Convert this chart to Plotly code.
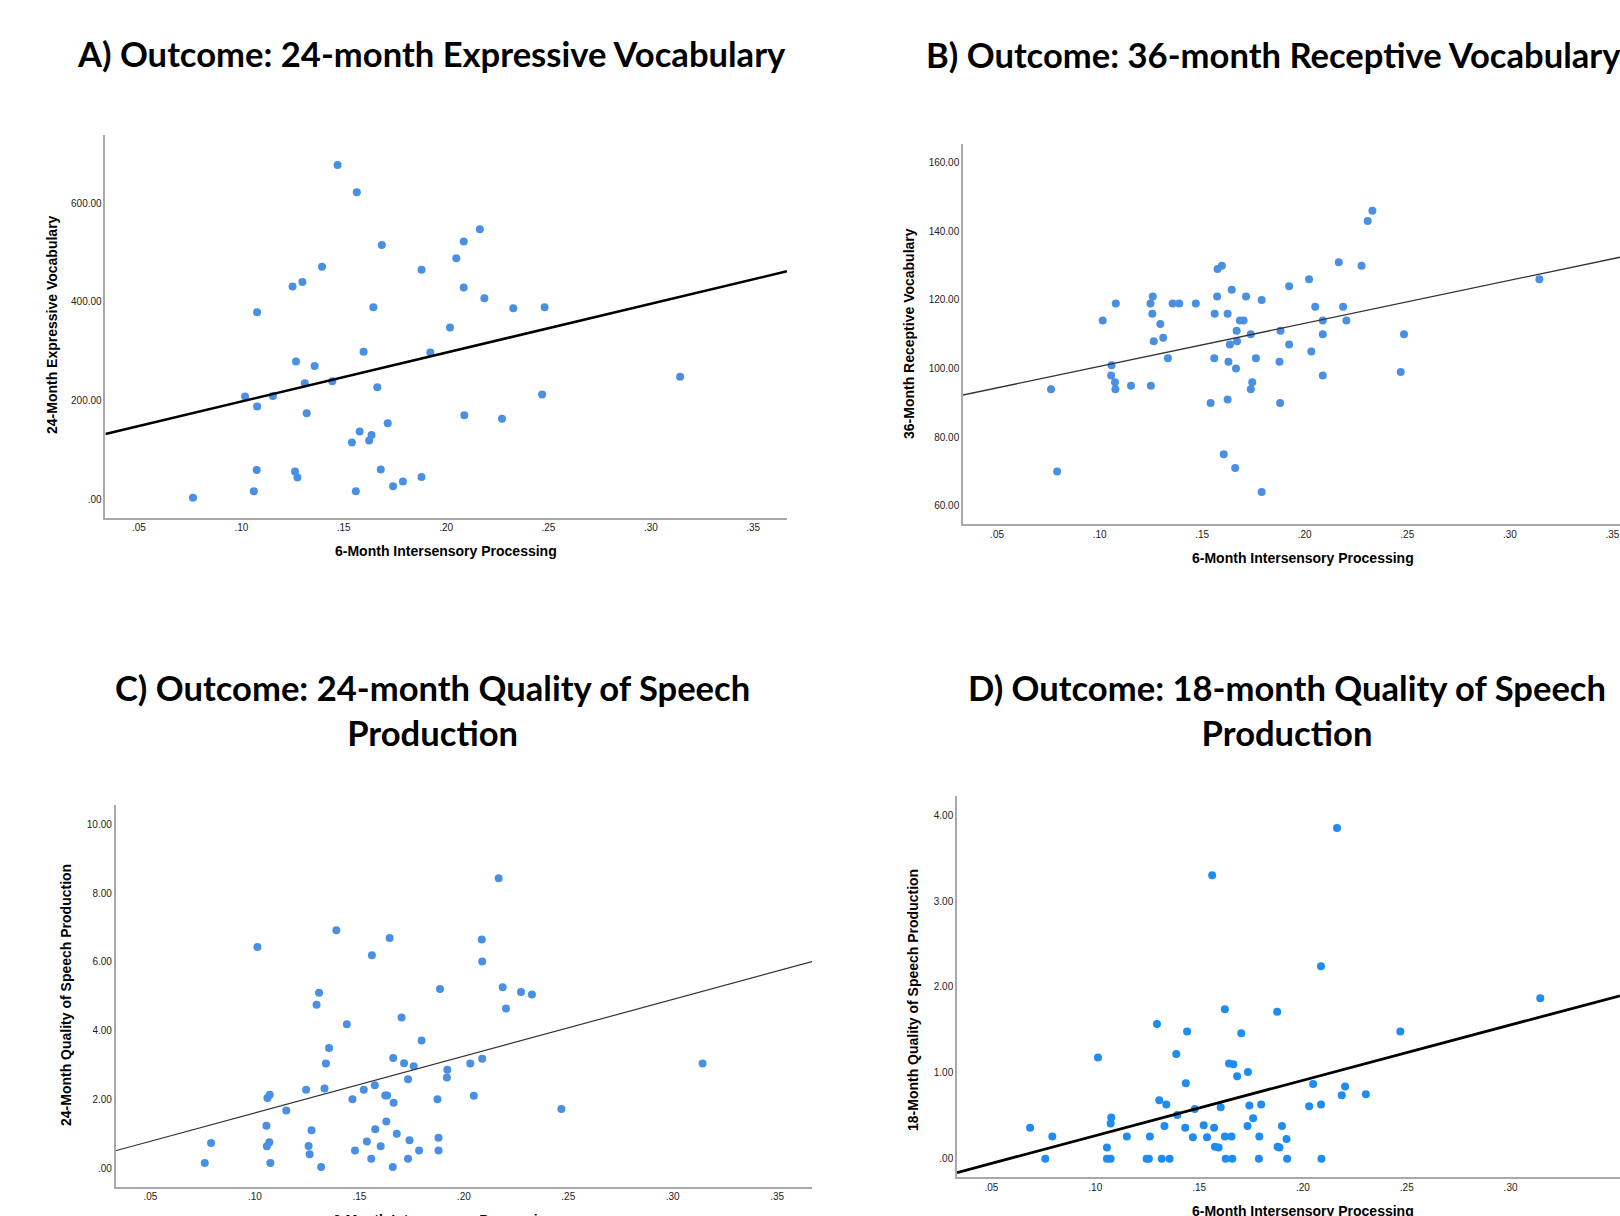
import plotly.graph_objects as go

W, H = 1620, 1216

# ---------------- DATA ----------------
x_tick_vals = [0.05, 0.10, 0.15, 0.20, 0.25, 0.30, 0.35]
x_tick_text = [".05", ".10", ".15", ".20", ".25", ".30", ".35"]

# Panel A: 24-month expressive vocabulary
a_x = [0.147, 0.1564, 0.2165, 0.2086, 0.1686, 0.2050, 0.188, 0.1394, 0.1298, 0.125,
       0.2086, 0.2187, 0.1645, 0.2328, 0.2481, 0.1077, 0.2019, 0.1597, 0.1923, 0.1267,
       0.1358, 0.131, 0.1444, 0.1664, 0.3143, 0.1018, 0.1154, 0.1077, 0.2469, 0.1319,
       0.2089, 0.2273, 0.1715, 0.1578, 0.1636, 0.154, 0.1624, 0.1075, 0.1262, 0.1681,
       0.1274, 0.188, 0.1789, 0.1741, 0.1061, 0.1559, 0.0764]
a_y = [677, 622, 547, 522, 515, 488, 465, 471, 440, 431,
       429, 407, 389, 387, 389, 379, 348, 299, 297, 279,
       270, 235, 239, 227, 248, 208, 209, 188, 212, 174,
       170, 163, 154, 137, 130, 115, 119, 59, 56, 60,
       44, 45, 36, 26, 16, 16, 3]
a_ticks = [0, 200, 400, 600]
a_ticktext = [".00", "200.00", "400.00", "600.00"]
a_fit = (99.0, 990.0)  # intercept, slope

# Panel B: 36-month receptive vocabulary
b_x = [0.233, 0.2307, 0.2166, 0.2277, 0.1596, 0.1575, 0.2021, 0.3144, 0.1924, 0.1644,
       0.1259, 0.1573, 0.1714, 0.179, 0.1079, 0.1248, 0.1356, 0.1388, 0.1469, 0.2051,
       0.2187, 0.1257, 0.1561, 0.1624, 0.1296, 0.1015, 0.1684, 0.1702, 0.2088, 0.2203,
       0.1668, 0.1882, 0.1737, 0.2088, 0.2484, 0.131, 0.1264, 0.167, 0.1635, 0.1924,
       0.2032, 0.1333, 0.1559, 0.1762, 0.1058, 0.1628, 0.1877, 0.1665, 0.2468, 0.1056,
       0.2088, 0.1075, 0.1744, 0.0763, 0.1077, 0.1737, 0.1153, 0.125, 0.1541, 0.1624,
       0.188, 0.1605, 0.0793, 0.1661, 0.179]
b_y = [146, 143, 131, 130, 130, 129, 126, 126, 124, 123,
       121, 121, 121, 120, 119, 119, 119, 119, 119, 118,
       118, 116, 116, 116, 113, 114, 114, 114, 114, 114,
       111, 111, 110, 110, 110, 109, 108, 108, 107, 107,
       105, 103, 103, 103, 101, 102, 102, 100, 99, 98,
       98, 96, 96, 94, 94, 94, 95, 95, 90, 91,
       90, 75, 70, 71, 64]
b_ticks = [60, 80, 100, 120, 140, 160]
b_ticktext = ["60.00", "80.00", "100.00", "120.00", "140.00", "160.00"]
b_fit = (88.1, 125.4)

# Panel C: 24-month quality of speech production
c_x = [0.2167, 0.139, 0.1645, 0.2086, 0.1012, 0.156, 0.2088, 0.1886, 0.2186, 0.2274,
       0.2326, 0.1307, 0.1295, 0.2202, 0.1702, 0.144, 0.1798, 0.1355, 0.1662, 0.134,
       0.1714, 0.176, 0.2088, 0.2031, 0.3143, 0.1921, 0.1919, 0.1733, 0.1574, 0.1245,
       0.1333, 0.1521, 0.1071, 0.106, 0.1624, 0.1633, 0.2048, 0.1467, 0.1874, 0.1664,
       0.115, 0.2467, 0.1055, 0.1629, 0.1271, 0.1576, 0.1679, 0.1879, 0.174, 0.0790,
       0.1069, 0.1057, 0.1257, 0.1536, 0.1602, 0.1479, 0.1786, 0.1879, 0.1262, 0.1557,
       0.1733, 0.076, 0.1074, 0.1317, 0.166]
c_y = [8.43, 6.92, 6.69, 6.65, 6.43, 6.19, 6.01, 5.21, 5.26, 5.12,
       5.05, 5.10, 4.75, 4.64, 4.38, 4.18, 3.71, 3.49, 3.20, 3.04,
       3.05, 2.96, 3.18, 3.04, 3.04, 2.86, 2.63, 2.58, 2.41, 2.28,
       2.31, 2.28, 2.13, 2.04, 2.11, 2.11, 2.10, 2.00, 2.00, 1.90,
       1.67, 1.72, 1.23, 1.35, 1.10, 1.13, 1.00, 0.88, 0.81, 0.73,
       0.75, 0.63, 0.64, 0.77, 0.63, 0.51, 0.51, 0.51, 0.40, 0.27,
       0.27, 0.15, 0.15, 0.03, 0.03]
c_ticks = [0, 2, 4, 6, 8, 10]
c_ticktext = [".00", "2.00", "4.00", "6.00", "8.00", "10.00"]
c_fit = (-0.046, 16.5)

# Panel D: 18-month quality of speech production
d_x = [0.2164, 0.1563, 0.2087, 0.3143, 0.1624, 0.1876, 0.1297, 0.1442, 0.1703, 0.2469,
       0.139, 0.1013, 0.1644, 0.1665, 0.1683, 0.1735, 0.1436, 0.2049, 0.2203, 0.2187,
       0.2303, 0.1308, 0.1342, 0.1742, 0.1799, 0.203, 0.2087, 0.1604, 0.1479, 0.1395,
       0.1077, 0.1074, 0.176, 0.0686, 0.1333, 0.1433, 0.1522, 0.1572, 0.1733, 0.1899,
       0.0793, 0.1152, 0.1263, 0.147, 0.1538, 0.1624, 0.1656, 0.179, 0.1921, 0.1056,
       0.1576, 0.1594, 0.1878, 0.1887, 0.0759, 0.1056, 0.1074, 0.1247, 0.1258, 0.132,
       0.1358, 0.1628, 0.166, 0.1788, 0.1924, 0.2089]
d_y = [3.85, 3.30, 2.24, 1.87, 1.74, 1.71, 1.57, 1.48, 1.46, 1.48,
       1.22, 1.18, 1.11, 1.10, 0.96, 1.01, 0.88, 0.87, 0.84, 0.74,
       0.75, 0.68, 0.63, 0.62, 0.63, 0.61, 0.63, 0.60, 0.58, 0.51,
       0.48, 0.41, 0.47, 0.36, 0.38, 0.36, 0.39, 0.36, 0.38, 0.38,
       0.26, 0.26, 0.26, 0.25, 0.25, 0.26, 0.26, 0.26, 0.23, 0.13,
       0.14, 0.13, 0.14, 0.13, 0.0, 0.0, 0.0, 0.0, 0.0, 0.0,
       0.0, 0.0, 0.0, 0.0, 0.0, 0.0]
d_ticks = [0, 1, 2, 3, 4]
d_ticktext = [".00", "1.00", "2.00", "3.00", "4.00"]
d_fit = (-0.377, 6.45)

titles = ["A) Outcome: 24-month Expressive Vocabulary",
          "B) Outcome: 36-month Receptive Vocabulary",
          "C) Outcome: 24-month Quality of Speech<br>Production",
          "D) Outcome: 18-month Quality of Speech<br>Production"]
y_titles = ["24-Month Expressive Vocabulary",
            "36-Month Receptive Vocabulary",
            "24-Month Quality of Speech Production",
            "18-Month Quality of Speech Production"]
x_title = "6-Month Intersensory Processing"

# ---------------- LAYOUT (pixel geometry) ----------------
panels = [
    dict(x=a_x, y=a_y, ticks=a_ticks, tt=a_ticktext, fit=a_fit,
         box=(105.4, 787, 134.5, 517.6), xr=(0.0336, 0.3665), yr=(-37.3, 739),
         color="#4a90e2", lw=2.6, lc="#000000",
         title_xy=(431, 53), ytitle_xy=(52, 325), xtitle_xy=(446, 551)),
    dict(x=b_x, y=b_y, ticks=b_ticks, tt=b_ticktext, fit=b_fit,
         box=(963, 1620, 143.5, 524), xr=(0.0334, 0.3537), yr=(54.7, 165.6),
         color="#4a90e2", lw=1.3, lc="#333333",
         title_xy=(1273, 55), ytitle_xy=(909, 334), xtitle_xy=(1303, 558)),
    dict(x=c_x, y=c_y, ticks=c_ticks, tt=c_ticktext, fit=c_fit,
         box=(115.6, 812, 805, 1186.7), xr=(0.0333, 0.3667), yr=(-0.543, 10.56),
         color="#4a90e2", lw=1.2, lc="#333333",
         title_xy=(432, 710), ytitle_xy=(66, 995), xtitle_xy=(444, 1220)),
    dict(x=d_x, y=d_y, ticks=d_ticks, tt=d_ticktext, fit=d_fit,
         box=(957, 1620, 796, 1177), xr=(0.0334, 0.3527), yr=(-0.213, 4.224),
         color="#1e8cf0", lw=2.8, lc="#000000",
         title_xy=(1287, 710), ytitle_xy=(913, 1000), xtitle_xy=(1303, 1211)),
]

fig = go.Figure()
layout = dict(width=W, height=H, margin=dict(l=0, r=0, t=0, b=0),
              paper_bgcolor="white", plot_bgcolor="white", showlegend=False)
annotations = []

for i, p in enumerate(panels):
    n = "" if i == 0 else str(i + 1)
    xa, ya = "x" + n, "y" + n
    l, r, t, b = p["box"]
    layout["xaxis" + n] = dict(
        domain=[l / W, min(r / W, 1.0)], range=list(p["xr"]), anchor=ya,
        tickvals=x_tick_vals, ticktext=x_tick_text, showgrid=False, zeroline=False,
        showline=True, linecolor="#a8a8a8", linewidth=1.5, ticks="",
        tickfont=dict(family="Liberation Sans, Arial", size=10, color="#222"))
    layout["yaxis" + n] = dict(
        domain=[1 - b / H, 1 - t / H], range=list(p["yr"]), anchor=xa,
        tickvals=p["ticks"], ticktext=p["tt"], showgrid=False, zeroline=False,
        showline=True, linecolor="#a8a8a8", linewidth=1.5, ticks="",
        tickfont=dict(family="Liberation Sans, Arial", size=10, color="#222"))
    fig.add_trace(go.Scatter(x=p["x"], y=p["y"], mode="markers", xaxis=xa, yaxis=ya,
                             marker=dict(size=8, color=p["color"]),
                             hoverinfo="x+y"))
    b0, b1 = p["fit"]
    lx = list(p["xr"])
    ly = [b0 + b1 * v for v in lx]
    fig.add_trace(go.Scatter(x=lx, y=ly, mode="lines", xaxis=xa, yaxis=ya,
                             line=dict(color=p["lc"], width=p["lw"]),
                             hoverinfo="skip"))
    tx, ty = p["title_xy"]
    annotations.append(dict(text="<b>" + titles[i] + "</b>", xref="paper", yref="paper",
                            x=tx / W, y=1 - ty / H, xanchor="center", yanchor="middle",
                            showarrow=False, align="center",
                            font=dict(family="Lato, Open Sans", size=34.6, color="black")))
    yx, yy = p["ytitle_xy"]
    annotations.append(dict(text="<b>" + y_titles[i] + "</b>", xref="paper", yref="paper",
                            x=yx / W, y=1 - yy / H, xanchor="center", yanchor="middle",
                            showarrow=False, textangle=-90,
                            font=dict(family="Liberation Sans, Arial", size=14, color="black")))
    xx, xy = p["xtitle_xy"]
    annotations.append(dict(text="<b>" + x_title + "</b>", xref="paper", yref="paper",
                            x=xx / W, y=1 - xy / H, xanchor="center", yanchor="middle",
                            showarrow=False,
                            font=dict(family="Liberation Sans, Arial", size=14, color="black")))

layout["annotations"] = annotations
fig.update_layout(**layout)
fig.write_html("out.html", config={"displayModeBar": False},
               post_script="document.body.style.margin='0';")
